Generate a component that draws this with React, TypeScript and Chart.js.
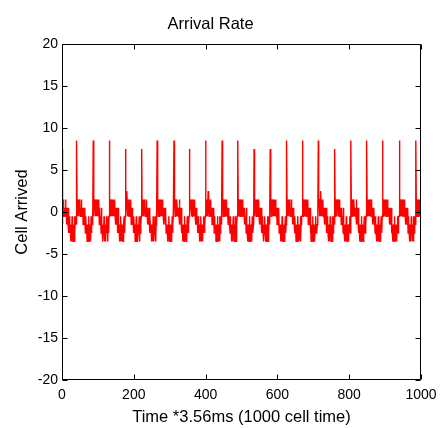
import React, { useEffect, useRef } from "react";
import { Chart, registerables } from "chart.js";

Chart.register(...registerables);

const chartTitle = "Arrival Rate";
const xLabel = "Time *3.56ms (1000 cell time)";
const yLabel = "Cell Arrived";
const xTicks = [0, 200, 400, 600, 800, 1000];
const yTicks = [-20, -15, -10, -5, 0, 5, 10, 15, 20];
const meanArrivals = 4.5;

// cells arrived per slot (hex digits), one string per burst period; the first char is the burst
const arrivalPeriods = [
  "c 35464 54546 45354 43524 32313 21423 12314 24343",
  "d 56465 46564 54645 45354 43524 32313 21423 12314 24343",
  "d 54656 46545 65464 53543 42532 31324 12313 24231 3424",
  "d 56456 45654 64546 45354 34253 23132 14213 23123 4324",
  "c 46575 46564 54645 35453 42432 31324 21312 32413 2434",
  "c 56465 46564 54645 35443 52432 31323 14212 32413 34",
  "d 56466 45654 65464 54535 44352 32313 21423 13213 24234 4",
  "d 56465 64654 54546 35443 52313 23141 23213 24232 34",
  "c 45656 46465 54645 43545 34243 23132 14213 21324 3234",
  "d 56465 47564 54645 45354 43524 32313 21423 13214 23434",
  "d 56456 45654 64545 43534 32423 13212 42312 32413 344",
  "d 54656 46564 54645 45354 34253 23132 14213 23124 3234",
  "c 46565 45646 54645 35443 52432 31324 21312 32413 2434",
  "c 56465 46564 65464 54535 44352 32313 21423 13213 24234",
  "d 56456 46564 54645 43534 32423 13212 42312 32413 344",
  "d 54656 45654 64546 35443 52313 23141 23213 24232 344",
  "d 56466 47564 54645 45354 43524 32313 21423 12314 24343",
  "c 45656 46564 54645 45354 34253 23132 14213 23123 4324",
  "d 56465 64654 54546 35443 52313 23141 23213 24232 344",
  "d 56456 46465 54645 43545 34243 23132 14213 21324 324",
  "d 54656 45654 65464 54535 44352 32313 21423 13213 24234 4",
  "d 56465 46564 54645 45354 43524 32313 21423 13214 23434",
  "d 56465 46564 546",
];

const arrivalCounts = arrivalPeriods
  .join("")
  .replace(/ /g, "")
  .split("")
  .map((c) => parseInt(c, 16));

const FONT = "'Liberation Sans', Arial, Helvetica, sans-serif";

const boxPlugin = {
  id: "matlabBox",
  afterDatasetsDraw(chart: any) {
    const { ctx, chartArea: a, scales } = chart;
    const L = Math.round(a.left) + 0.5;
    const R = Math.round(a.right) - 0.5;
    const T = Math.round(a.top) + 0.5;
    const B = Math.round(a.bottom) - 0.5;
    const tl = 5;
    ctx.save();
    ctx.strokeStyle = "#000";
    ctx.lineWidth = 1;
    ctx.beginPath();
    ctx.rect(L, T, R - L, B - T);
    xTicks.forEach((v) => {
      const x = Math.round(scales.x.getPixelForValue(v)) + 0.5;
      ctx.moveTo(x, B);
      ctx.lineTo(x, B - tl);
      ctx.moveTo(x, T);
      ctx.lineTo(x, T + tl);
    });
    yTicks.forEach((v) => {
      const y = Math.round(scales.y.getPixelForValue(v)) + 0.5;
      ctx.moveTo(L, y);
      ctx.lineTo(L + tl, y);
      ctx.moveTo(R, y);
      ctx.lineTo(R - tl, y);
    });
    ctx.stroke();
    ctx.restore();
  },
};

export default function App() {
  const ref = useRef<HTMLCanvasElement>(null);

  useEffect(() => {
    if (!ref.current) return;
    const points = arrivalCounts.map((c, i) => ({ x: i, y: c - meanArrivals }));
    const chart = new Chart(ref.current, {
      type: "line",
      data: {
        datasets: [
          {
            data: points,
            borderColor: "#ff0000",
            borderWidth: 1.4,
            pointRadius: 0,
            tension: 0,
            fill: false,
          },
        ],
      },
      options: {
        animation: false,
        responsive: false,
        events: [],
        layout: { padding: { left: 0, right: 19, top: 0, bottom: 0 } },
        plugins: {
          legend: { display: false },
          tooltip: { enabled: false },
          title: {
            display: true,
            text: chartTitle,
            color: "#000",
            font: { family: FONT, size: 16.5, weight: "normal" },
            padding: { top: 15, bottom: 9.2 },
          },
        },
        scales: {
          x: {
            type: "linear",
            min: 0,
            max: 1000,
            grid: { display: false, drawTicks: false },
            border: { display: false },
            afterBuildTicks: (s: any) => {
              s.ticks = xTicks.map((v) => ({ value: v }));
            },
            afterFit: (s: any) => {
              s.height = 48;
              s.paddingLeft = 0;
              s.paddingRight = 0;
            },
            ticks: {
              color: "#000",
              font: { family: FONT, size: 14 },
              padding: 7,
              maxRotation: 0,
              autoSkip: false,
              callback: (v: any) => String(v),
            },
            title: {
              display: true,
              text: xLabel,
              color: "#000",
              font: { family: FONT, size: 16.5 },
              padding: { top: 0, bottom: 1 },
            },
          },
          y: {
            type: "linear",
            min: -20,
            max: 20,
            grid: { display: false, drawTicks: false },
            border: { display: false },
            afterBuildTicks: (s: any) => {
              s.ticks = yTicks.map((v) => ({ value: v }));
            },
            afterFit: (s: any) => {
              s.width = 62;
            },
            ticks: {
              color: "#000",
              font: { family: FONT, size: 14 },
              padding: 4,
              autoSkip: false,
              callback: (v: any) => String(v),
            },
            title: {
              display: true,
              text: yLabel,
              color: "#000",
              font: { family: FONT, size: 16.5 },
              padding: { top: 13, bottom: 0 },
            },
          },
        },
      },
      plugins: [boxPlugin],
    } as any);
    return () => chart.destroy();
  }, []);

  return (
    <div style={{ position: "absolute", left: 0, top: 0, width: 440, height: 428, background: "#fff" }}>
      <canvas ref={ref} width={440} height={428} style={{ width: 440, height: 428, display: "block" }} />
    </div>
  );
}
